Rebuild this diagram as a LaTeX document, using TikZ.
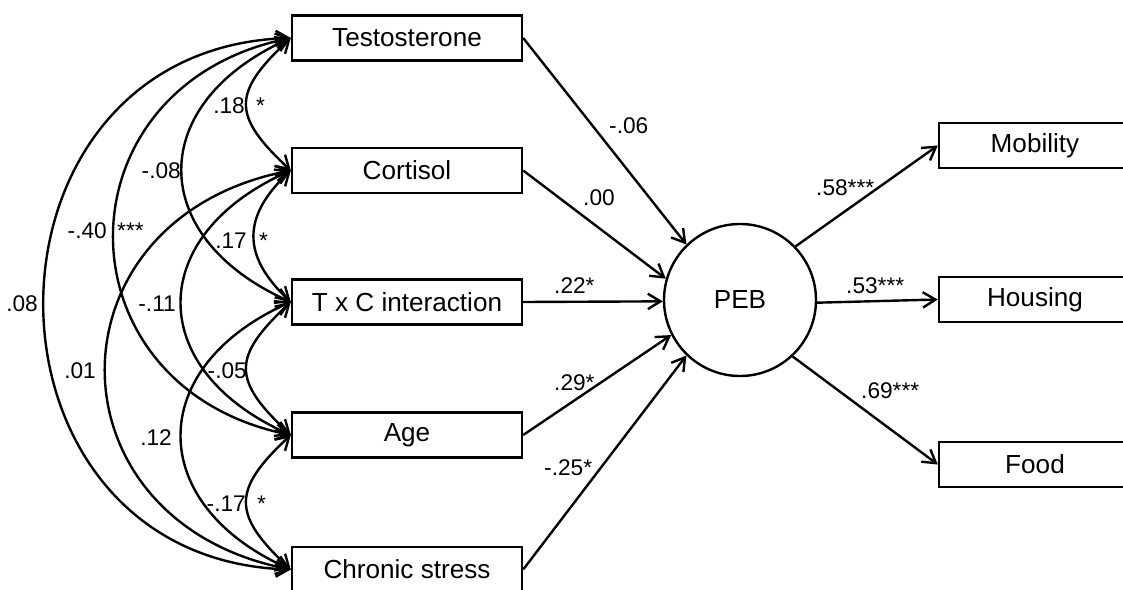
\documentclass[tikz,border=0pt]{standalone}
\usepackage{fontspec}
\setmainfont{Liberation Sans}
\usetikzlibrary{arrows.meta}
\begin{document}
\begin{tikzpicture}[x=0.75pt,y=-0.75pt,
  line width=1.8pt,
  >={Straight Barb[length=9.5pt,width=11.5pt]},
  box/.style={draw,rectangle,inner sep=0pt,minimum height=33.75pt,font=\fontsize{19.6}{23}\selectfont},
  lbox/.style={box,minimum width=172.5pt},
  rbox/.style={box,minimum width=144pt},
  latent/.style={draw,circle,inner sep=0pt,minimum size=114pt,font=\fontsize{19.6}{23}\selectfont},
  lbl/.style={inner sep=0pt,font=\fontsize{17}{20}\selectfont},
  cov/.style={<->}]
\path[use as bounding box] (0,0) rectangle (1123,589);
\clip (0,0) rectangle (1123,589);
% observed variables
\node[lbox] (t) at (407,38) {Testosterone};
\node[lbox] (c) at (407,170.5) {Cortisol};
\node[lbox] (txc) at (407,302) {T x C interaction};
\node[lbox] (a) at (407,435) {Age};
\node[lbox] (s) at (407,569.5) {Chronic stress};
\node[latent] (peb) at (740,300) {PEB};
\node[rbox] (mob) at (1035,145.5) {Mobility};
\node[rbox] (hou) at (1035,299.5) {Housing};
\node[rbox] (food) at (1035,464.5) {Food};
% regression paths
\draw[->] (t.east) -- (peb.134);
\draw[->] (c.east) -- (peb.164);
\draw[->] (txc.east) -- (peb.181);
\draw[->] (a.east) -- (peb.207);
\draw[->] (s.east) -- (peb.226);
\draw[->] (peb.44.5) -- (mob.west);
\draw[->] (peb.358) -- (hou.west);
\draw[->] (peb.313.5) -- (food.west);
% covariances
\draw[cov] (t.west) .. controls +(-59,55) and +(-59,-55) .. (c.west);
\draw[cov] (c.west) .. controls +(-49,46) and +(-49,-46) .. (txc.west);
\draw[cov] (txc.west) .. controls +(-59,55) and +(-59,-55) .. (a.west);
\draw[cov] (a.west) .. controls +(-59,55) and +(-59,-55) .. (s.west);
\draw[cov] (t.west) .. controls +(-145,65) and +(-145,-65) .. (txc.west);
\draw[cov] (c.west) .. controls +(-146,65) and +(-146,-65) .. (a.west);
\draw[cov] (txc.west) .. controls +(-146,65) and +(-146,-65) .. (s.west);
\draw[cov] (t.west) .. controls +(-236,48) and +(-236,-48) .. (a.west);
\draw[cov] (c.west) .. controls +(-247,48) and +(-247,-48) .. (s.west);
\draw[cov] (t.west) .. controls +(-329,10) and +(-329,-10) .. (s.west);
% path labels
\node[lbl,anchor=base west] (l1) at (608,133) {-.06};
\node[lbl,anchor=base west] (l2) at (582,205) {.00};
\node[lbl,anchor=base west] (l3) at (553,293) {.22*};
\node[lbl,anchor=base west] (l4) at (553,390) {.29*};
\node[lbl,anchor=base west] (l5) at (543,475) {-.25*};
\node[lbl,anchor=base west] (l6) at (815,195) {.58***};
\node[lbl,anchor=base west] (l7) at (845,293) {.53***};
\node[lbl,anchor=base west] (l8) at (860,398) {.69***};
% covariance labels
\node[lbl,anchor=base east] (k1) at (246,113) {.18};
\node[lbl,anchor=base west] (k1s) at (255,113) {*};
\node[lbl,anchor=base east] (k2) at (182,178) {-.08};
\node[lbl,anchor=base east] (k3) at (108,238) {-.40};
\node[lbl,anchor=base west] (k3s) at (116,238) {***};
\node[lbl,anchor=base east] (k4) at (248,248) {.17};
\node[lbl,anchor=base west] (k4s) at (258,248) {*};
\node[lbl,anchor=base east] (k5) at (39,311) {.08};
\node[lbl,anchor=base east] (k6) at (177,311) {-.11};
\node[lbl,anchor=base east] (k7) at (97,378) {.01};
\node[lbl,anchor=base east] (k8) at (248,378) {-.05};
\node[lbl,anchor=base east] (k9) at (173,445) {.12};
\node[lbl,anchor=base east] (k10) at (247,511) {-.17};
\node[lbl,anchor=base west] (k10s) at (256,511) {*};
\end{tikzpicture}
\end{document}
